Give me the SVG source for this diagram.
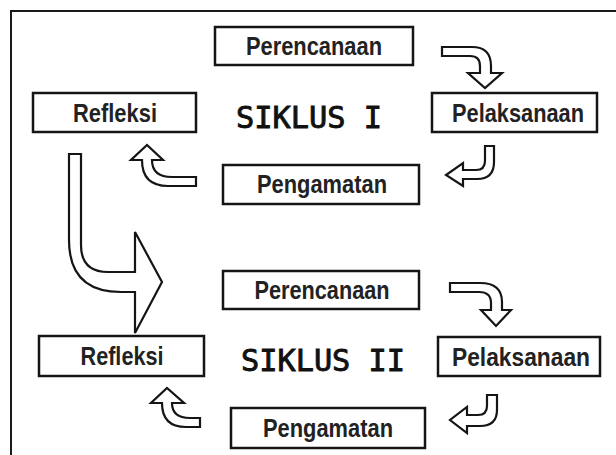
<svg xmlns="http://www.w3.org/2000/svg" width="616" height="455" viewBox="0 0 616 455">
<style>
.box{fill:#fff;stroke:#151515;stroke-width:2.5}
.lbl{font-family:"Liberation Sans",Arial,sans-serif;font-weight:bold;font-size:25px;fill:#222;text-anchor:middle}
.title{font-family:"DejaVu Sans Mono",monospace;font-size:30px;fill:#111;stroke:#111;stroke-width:0.9}
.arr{fill:#fff;stroke:#151515;stroke-width:2.2;stroke-linejoin:miter}
</style>
<rect width="616" height="455" fill="#fff"/>
<rect x="11" y="11" width="620" height="460" fill="none" stroke="#1a1a1a" stroke-width="2"/>
<g id="connectors">
<path class="arr" d="M442,47 L472,47 Q491,47 491,66 L491,73 L502,73 L485,88 L468,73 L480,73 L480,66 Q480,56 470,56 L442,56 Z"/>
<path class="arr" d="M485,146 L494,146 L494,162 Q494,179 477,179 L463,179 L463,186 L446,175 L463,163 L463,170 L476,170 Q485,170 485,161 Z"/>
<path class="arr" d="M196,177 L172,177 Q152,177 152,160 L163,160 L147,145 L131,160 L142,160 Q142,186 168,186 L196,186 Z"/>
<path class="arr" d="M69,154 L69,240 Q69,292 121,292 L135,292 L135,333 L162,282 L135,232 L135,272 L108,272 Q81,272 81,245 L81,154 Z"/>
<path class="arr" d="M450,283 L480,283 Q502,283 502,302 L502,310 L511,310 L496,326 L481,310 L491,310 L491,303 Q491,292 479,292 L450,292 Z"/>
<path class="arr" d="M487,395 L497,395 L497,410 Q497,426 480,426 L467,426 L467,433 L450,420 L467,407 L467,415 L478,415 Q487,415 487,406 Z"/>
<path class="arr" d="M200,418 L190,418 Q172,418 172,403 L184,403 L167,388 L151,403 L162,403 Q162,427 186,427 L200,427 Z"/>
</g>
<g id="perencanaan1"><rect class="box" x="215" y="27" width="198" height="38"/><text class="lbl" x="314" y="55" textLength="136" lengthAdjust="spacingAndGlyphs">Perencanaan</text></g>
<g id="refleksi1"><rect class="box" x="33" y="93" width="163" height="39"/><text class="lbl" x="115" y="121.5" textLength="84" lengthAdjust="spacingAndGlyphs">Refleksi</text></g>
<g id="pelaksanaan1"><rect class="box" x="432" y="93" width="165" height="39"/><text class="lbl" x="518" y="121.5" textLength="132" lengthAdjust="spacingAndGlyphs">Pelaksanaan</text></g>
<g id="pengamatan1"><rect class="box" x="223" y="165" width="196" height="39"/><text class="lbl" x="322" y="193" textLength="130" lengthAdjust="spacingAndGlyphs">Pengamatan</text></g>
<g id="siklus1"><text class="title" x="236" y="128" textLength="146" lengthAdjust="spacingAndGlyphs">SIKLUS I</text></g>
<g id="perencanaan2"><rect class="box" x="223" y="271" width="196" height="38"/><text class="lbl" x="322" y="299" textLength="135" lengthAdjust="spacingAndGlyphs">Perencanaan</text></g>
<g id="refleksi2"><rect class="box" x="39" y="336" width="165" height="40"/><text class="lbl" x="122" y="365" textLength="83" lengthAdjust="spacingAndGlyphs">Refleksi</text></g>
<g id="pelaksanaan2"><rect class="box" x="438" y="337" width="162" height="39"/><text class="lbl" x="521" y="365.5" textLength="138" lengthAdjust="spacingAndGlyphs">Pelaksanaan</text></g>
<g id="pengamatan2"><rect class="box" x="231" y="408" width="194" height="40"/><text class="lbl" x="328" y="437" textLength="130" lengthAdjust="spacingAndGlyphs">Pengamatan</text></g>
<g id="siklus2"><text class="title" x="241" y="371" textLength="164" lengthAdjust="spacingAndGlyphs">SIKLUS II</text></g>
</svg>
